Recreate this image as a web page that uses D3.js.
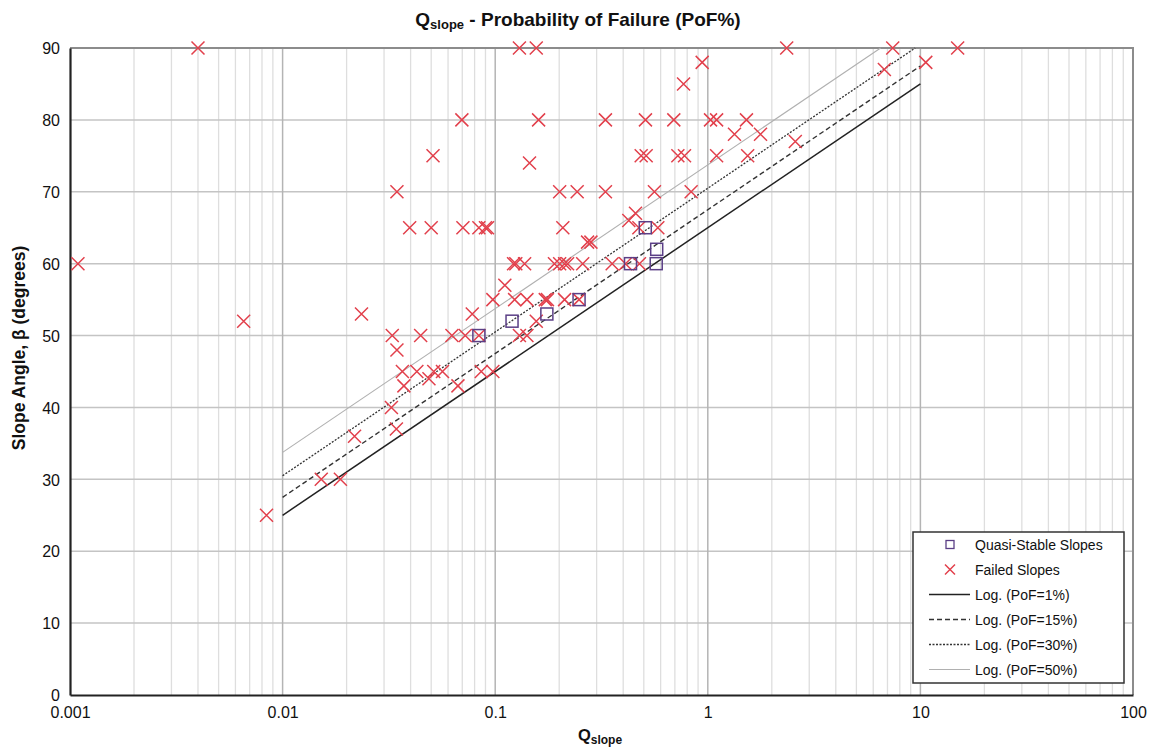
<!DOCTYPE html>
<html>
<head>
<meta charset="utf-8">
<script src="https://cdn.jsdelivr.net/npm/d3@7"></script>
<style>
  body { margin: 0; background: #fff; }
  svg { font-family: "Liberation Sans", Arial, sans-serif; }
</style>
</head>
<body>
<svg width="1154" height="751"></svg>
<script>
// failed slopes (red x)
const failedQ = [
  0.00109, 0.0040, 0.00656, 0.0084, 0.0152, 0.0187, 0.0218, 0.0235, 0.0325, 0.0328,
  0.0343, 0.0345, 0.0345, 0.0366, 0.0372, 0.0396, 0.0428, 0.0446, 0.0488, 0.050,
  0.051, 0.0514, 0.0565, 0.0626, 0.0668, 0.0697, 0.0705, 0.0723, 0.078, 0.0838,
  0.0838, 0.086, 0.090, 0.092, 0.0975, 0.0975, 0.111, 0.122, 0.125, 0.1234,
  0.130, 0.130, 0.1375, 0.141, 0.141, 0.145, 0.156, 0.156, 0.160, 0.172,
  0.176, 0.190, 0.201, 0.201, 0.208, 0.212, 0.212, 0.219, 0.243, 0.248,
  0.258, 0.272, 0.282, 0.330, 0.330, 0.355, 0.410, 0.425, 0.457, 0.474,
  0.477, 0.486, 0.509, 0.513, 0.561, 0.582, 0.692, 0.723, 0.769, 0.777,
  0.835, 0.941, 1.03, 1.10, 1.10, 1.335, 1.52, 1.54, 1.77, 2.35,
  2.58, 6.77, 7.41, 10.6, 14.97
];
const failedAngle = [
  60, 90, 52, 25, 30, 30, 36, 53, 40, 50,
  37, 48, 70, 45, 43, 65, 45, 50, 44, 65,
  75, 45, 45, 50, 43, 80, 65, 50, 53, 65,
  50, 45, 65, 65, 55, 45, 57, 60, 60, 55,
  50, 90, 60, 55, 50, 74, 52, 90, 80, 55,
  55, 60, 60, 70, 65, 60, 55, 60, 70, 55,
  60, 63, 63, 70, 80, 60, 60, 66, 67, 65,
  60, 75, 80, 75, 70, 65, 80, 75, 85, 75,
  70, 88, 80, 80, 75, 78, 80, 75, 78, 90,
  77, 87, 90, 88, 90
];

// quasi-stable slopes (purple squares)
const stableQ = [0.0838, 0.12, 0.175, 0.248, 0.433, 0.508, 0.572, 0.575];
const stableAngle = [50, 52, 53, 55, 60, 65, 60, 62];

// PoF trend lines, end points
const trendLabels = ["Log. (PoF=1%)", "Log. (PoF=15%)", "Log. (PoF=30%)", "Log. (PoF=50%)"];
const trendQ = [[0.01, 10], [0.01, 10], [0.01, 9.45], [0.01, 6.5]];
const trendAngle = [[25, 85], [27.5, 87.5], [30.5, 90], [33.75, 90]];

const xTicks = [0.001, 0.01, 0.1, 1, 10, 100];
const xTickLabels = ["0.001", "0.01", "0.1", "1", "10", "100"];
const yTicks = [0, 10, 20, 30, 40, 50, 60, 70, 80, 90];

const svg = d3.select("svg"),
  margin = { top: 48, right: 21, bottom: 56, left: 70 },
  width = +svg.attr("width") - margin.left - margin.right,
  height = +svg.attr("height") - margin.top - margin.bottom;

const g = svg.append("g")
  .attr("transform", "translate(" + margin.left + "," + margin.top + ")");

const x = d3.scaleLog().domain([0.001, 100]).range([0, width]);
const y = d3.scaleLinear().domain([0, 90]).range([height, 0]);

// minor vertical grid
const minor = [];
xTicks.slice(0, -1).forEach(function(t) {
  for (let k = 2; k < 10; k++) minor.push(t * k);
});
g.append("g").selectAll("line").data(minor).join("line")
  .attr("x1", d => x(d)).attr("x2", d => x(d))
  .attr("y1", 0).attr("y2", height)
  .attr("stroke", "#dedede").attr("stroke-width", 1.3);

// horizontal grid
g.append("g").selectAll("line").data(yTicks.slice(1)).join("line")
  .attr("x1", 0).attr("x2", width)
  .attr("y1", d => y(d)).attr("y2", d => y(d))
  .attr("stroke", "#c4c4c4").attr("stroke-width", 1.5);

// major vertical grid
g.append("g").selectAll("line").data(xTicks.slice(1, -1)).join("line")
  .attr("x1", d => x(d)).attr("x2", d => x(d))
  .attr("y1", 0).attr("y2", height)
  .attr("stroke", "#b4b4b4").attr("stroke-width", 1.5);

// frame: top / right grey
g.append("path")
  .attr("d", "M0,0H" + width + "V" + height)
  .attr("fill", "none").attr("stroke", "#8c8c8c").attr("stroke-width", 2);

// axes
const xAxis = g.append("g")
  .attr("transform", "translate(0," + height + ")")
  .call(d3.axisBottom(x).tickValues(xTicks).tickFormat((d, i) => xTickLabels[i]).tickSize(0).tickPadding(12));
const yAxis = g.append("g")
  .call(d3.axisLeft(y).tickValues(yTicks).tickSize(0).tickPadding(10));
[xAxis, yAxis].forEach(function(a) {
  a.select(".domain").attr("stroke", "#222").attr("stroke-width", 2.2);
  a.selectAll("text").attr("font-size", "16px").attr("fill", "#111")
    .attr("font-family", "'Liberation Sans', Arial, sans-serif");
});
yAxis.selectAll("text").attr("dy", "0.36em");

// trend lines
const trendStyle = [
  { stroke: "#222", dash: null, w: 1.5 },
  { stroke: "#333", dash: "5,3", w: 1.4 },
  { stroke: "#333", dash: "2,1.5", w: 1.3 },
  { stroke: "#b0b0b0", dash: null, w: 1.1 }
];
const line = d3.line().x(d => x(d[0])).y(d => y(d[1]));
trendLabels.forEach(function(name, i) {
  const pts = trendQ[i].map((q, j) => [q, trendAngle[i][j]]);
  g.append("path")
    .datum(pts)
    .attr("fill", "none")
    .attr("stroke", trendStyle[i].stroke)
    .attr("stroke-width", trendStyle[i].w)
    .attr("stroke-dasharray", trendStyle[i].dash)
    .attr("d", line);
});

const red = "#e2404c", purple = "#5b3f86";
const cross = function(sel, s) {
  sel.attr("d", "M" + -s + "," + -s + "L" + s + "," + s + "M" + -s + "," + s + "L" + s + "," + -s)
    .attr("stroke", red).attr("stroke-width", 1.5).attr("fill", "none");
};

// failed slopes
g.append("g").selectAll("path")
  .data(failedQ.map((q, i) => [q, failedAngle[i]]))
  .join("path")
  .attr("transform", d => "translate(" + x(d[0]) + "," + y(d[1]) + ")")
  .call(cross, 6.5);

// quasi-stable slopes
g.append("g").selectAll("rect")
  .data(stableQ.map((q, i) => [q, stableAngle[i]]))
  .join("rect")
  .attr("x", d => x(d[0]) - 6).attr("y", d => y(d[1]) - 6)
  .attr("width", 12).attr("height", 12)
  .attr("fill", "none").attr("stroke", purple).attr("stroke-width", 1.5);

// title
const title = svg.append("text")
  .attr("x", 578).attr("y", 26)
  .attr("text-anchor", "middle")
  .attr("font-weight", "bold").attr("font-size", "19px").attr("fill", "#111");
title.append("tspan").text("Q");
title.append("tspan").attr("font-size", "13px").attr("dy", 3).text("slope");
title.append("tspan").attr("dy", -3).text(" - Probability of Failure (PoF%)");

// x label
const xl = svg.append("text")
  .attr("x", 600).attr("y", 741)
  .attr("text-anchor", "middle")
  .attr("font-weight", "bold").attr("font-size", "16.5px").attr("fill", "#111");
xl.append("tspan").text("Q");
xl.append("tspan").attr("font-size", "12px").attr("dy", 3).text("slope");

// y label
svg.append("text")
  .attr("transform", "translate(25,348) rotate(-90)")
  .attr("text-anchor", "middle")
  .attr("font-weight", "bold").attr("font-size", "17.5px").attr("fill", "#111")
  .text("Slope Angle, β (degrees)");

// legend
const lg = svg.append("g").attr("transform", "translate(913,532)");
lg.append("rect")
  .attr("width", 211).attr("height", 151)
  .attr("fill", "#fff").attr("stroke", "#333").attr("stroke-width", 1.5);
const legendLabels = ["Quasi-Stable Slopes", "Failed Slopes"].concat(trendLabels);
legendLabels.forEach(function(name, i) {
  const yy = 12.5 + i * 25;
  if (i === 0) {
    lg.append("rect").attr("x", 33).attr("y", yy - 4).attr("width", 8).attr("height", 8)
      .attr("fill", "none").attr("stroke", purple).attr("stroke-width", 1.3);
  } else if (i === 1) {
    lg.append("path").attr("transform", "translate(37," + yy + ")").call(cross, 5);
  } else {
    const s = trendStyle[i - 2];
    lg.append("line").attr("x1", 16).attr("x2", 57).attr("y1", yy).attr("y2", yy)
      .attr("stroke", s.stroke).attr("stroke-width", s.w).attr("stroke-dasharray", s.dash);
  }
  lg.append("text").attr("x", 62).attr("y", yy).attr("dy", "0.36em")
    .attr("font-size", "14px").attr("fill", "#111").text(name);
});
</script>
</body>
</html>
